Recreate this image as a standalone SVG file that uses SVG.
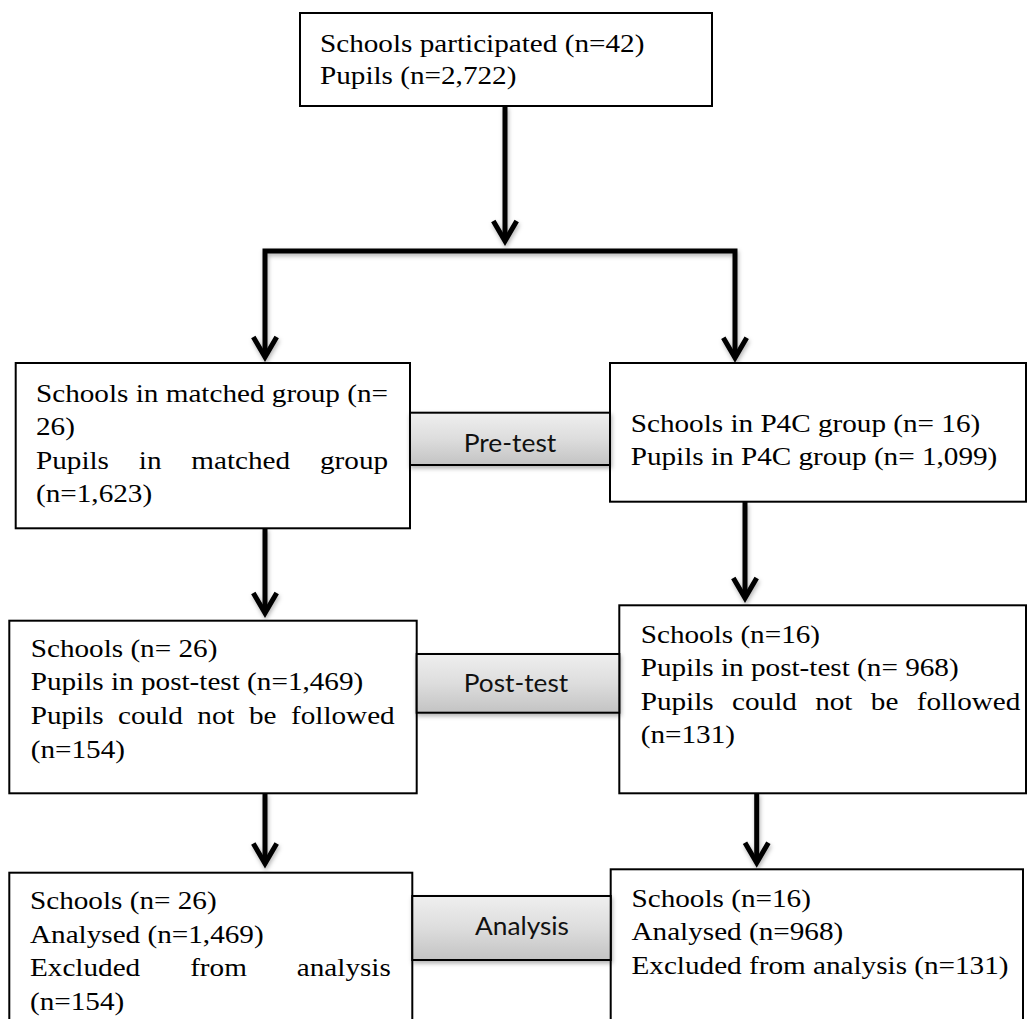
<svg xmlns="http://www.w3.org/2000/svg" width="1027" height="1019" viewBox="0 0 1027 1019">
<style>
.box{fill:#ffffff;stroke:#000000;stroke-width:2}
.t{font-family:"Liberation Serif","Times New Roman",serif;font-size:26px;fill:#000000}
.lbl{fill:url(#grad);stroke:#000000;stroke-width:2}
.lt{font-family:Lato,"Liberation Sans",sans-serif;font-size:25px;fill:#111111;text-anchor:middle}
.conn{fill:none;stroke:#000000;stroke-width:5;stroke-linejoin:miter}
</style>
<defs>
<linearGradient id="grad" x1="0" y1="0" x2="0" y2="1">
<stop offset="0" stop-color="#efefef"/>
<stop offset="0.5" stop-color="#dddddd"/>
<stop offset="1" stop-color="#c3c3c3"/>
</linearGradient>
<filter id="sh" x="-10%" y="-10%" width="130%" height="140%">
<feDropShadow dx="1" dy="2.5" stdDeviation="2" flood-color="#000000" flood-opacity="0.3"/>
</filter>
<marker id="ah" markerUnits="userSpaceOnUse" viewBox="-26 -16 32 32" refX="0" refY="0" markerWidth="32" markerHeight="32" orient="auto-start-reverse" overflow="visible">
<path d="M-20,-11.7 L0,0 L-20,11.7" fill="none" stroke="#000000" stroke-width="5" stroke-linejoin="miter"/>
</marker>
</defs>
<rect width="1027" height="1019" fill="#ffffff"/>

<g id="connectors" filter="url(#sh)">
<path class="conn" d="M505,106 V241" marker-end="url(#ah)"/>
<path class="conn" d="M265,357 V251 H735 V357.7" marker-start="url(#ah)" marker-end="url(#ah)"/>
<path class="conn" d="M265,528 V613" marker-end="url(#ah)"/>
<path class="conn" d="M265,793 V863.5" marker-end="url(#ah)"/>
<path class="conn" d="M745,502 V598" marker-end="url(#ah)"/>
<path class="conn" d="M756.7,793 V862.7" marker-end="url(#ah)"/>
</g>

<g id="node-top">
<rect class="box" x="300" y="13" width="412" height="93"/>
<text class="t" transform="matrix(1.123 0 0 1 320 51.7)"><tspan x="0" y="0">Schools participated (n=42)</tspan><tspan x="0" y="32.3">Pupils (n=2,722)</tspan></text>
</g>

<g id="node-matched">
<rect class="box" x="15.7" y="363" width="394.3" height="165.3"/>
<text class="t" transform="matrix(1.123 0 0 1 36 401.7)"><tspan x="0" y="0">Schools in matched group (n=</tspan><tspan x="0" y="33.6">26)</tspan><tspan x="0" y="67.2" word-spacing="20.07">Pupils in matched group</tspan><tspan x="0" y="100.8">(n=1,623)</tspan></text>
</g>

<g id="node-p4c">
<rect class="box" x="610" y="363" width="416" height="138.7"/>
<text class="t" transform="matrix(1.123 0 0 1 630.7 432)"><tspan x="0" y="0">Schools in P4C group (n= 16)</tspan><tspan x="0" y="33.4">Pupils in P4C group (n= 1,099)</tspan></text>
</g>

<g id="node-post-left">
<rect class="box" x="9.3" y="620.7" width="407.4" height="172.6"/>
<text class="t" transform="matrix(1.123 0 0 1 30.7 656.7)"><tspan x="0" y="0">Schools (n= 26)</tspan><tspan x="0" y="33.7">Pupils in post-test (n=1,469)</tspan><tspan x="0" y="67.4" word-spacing="6.34">Pupils could not be followed</tspan><tspan x="0" y="101.1">(n=154)</tspan></text>
</g>

<g id="node-post-right">
<rect class="box" x="619.3" y="605.3" width="406.7" height="188"/>
<text class="t" transform="matrix(1.123 0 0 1 640.7 643)"><tspan x="0" y="0">Schools (n=16)</tspan><tspan x="0" y="33.4">Pupils in post-test (n= 968)</tspan><tspan x="0" y="66.8" word-spacing="9.84">Pupils could not be followed</tspan><tspan x="0" y="100.2">(n=131)</tspan></text>
</g>

<g id="node-analysis-left">
<rect class="box" x="9.3" y="872.7" width="403" height="160"/>
<text class="t" transform="matrix(1.123 0 0 1 30 909.3)"><tspan x="0" y="0">Schools (n= 26)</tspan><tspan x="0" y="33.5">Analysed (n=1,469)</tspan><tspan x="0" y="67" word-spacing="37.98">Excluded from analysis</tspan><tspan x="0" y="100.5">(n=154)</tspan></text>
</g>

<g id="node-analysis-right">
<rect class="box" x="610.7" y="869.3" width="412.3" height="160"/>
<text class="t" transform="matrix(1.123 0 0 1 631.5 906.7)"><tspan x="0" y="0">Schools (n=16)</tspan><tspan x="0" y="33.5">Analysed (n=968)</tspan><tspan x="0" y="67">Excluded from analysis (n=131)</tspan></text>
</g>

<g id="label-pretest">
<rect class="lbl" x="410" y="412.7" width="200" height="52.3" filter="url(#sh)"/>
<text class="lt" x="510" y="451.7" textLength="92.7" lengthAdjust="spacingAndGlyphs">Pre-test</text>
</g>

<g id="label-posttest">
<rect class="lbl" x="416.7" y="654" width="202.6" height="58.7" filter="url(#sh)"/>
<text class="lt" x="516" y="692" textLength="104.4" lengthAdjust="spacingAndGlyphs">Post-test</text>
</g>

<g id="label-analysis">
<rect class="lbl" x="412.3" y="896" width="198.4" height="64" filter="url(#sh)"/>
<text class="lt" x="522" y="935" textLength="94" lengthAdjust="spacingAndGlyphs">Analysis</text>
</g>
</svg>
